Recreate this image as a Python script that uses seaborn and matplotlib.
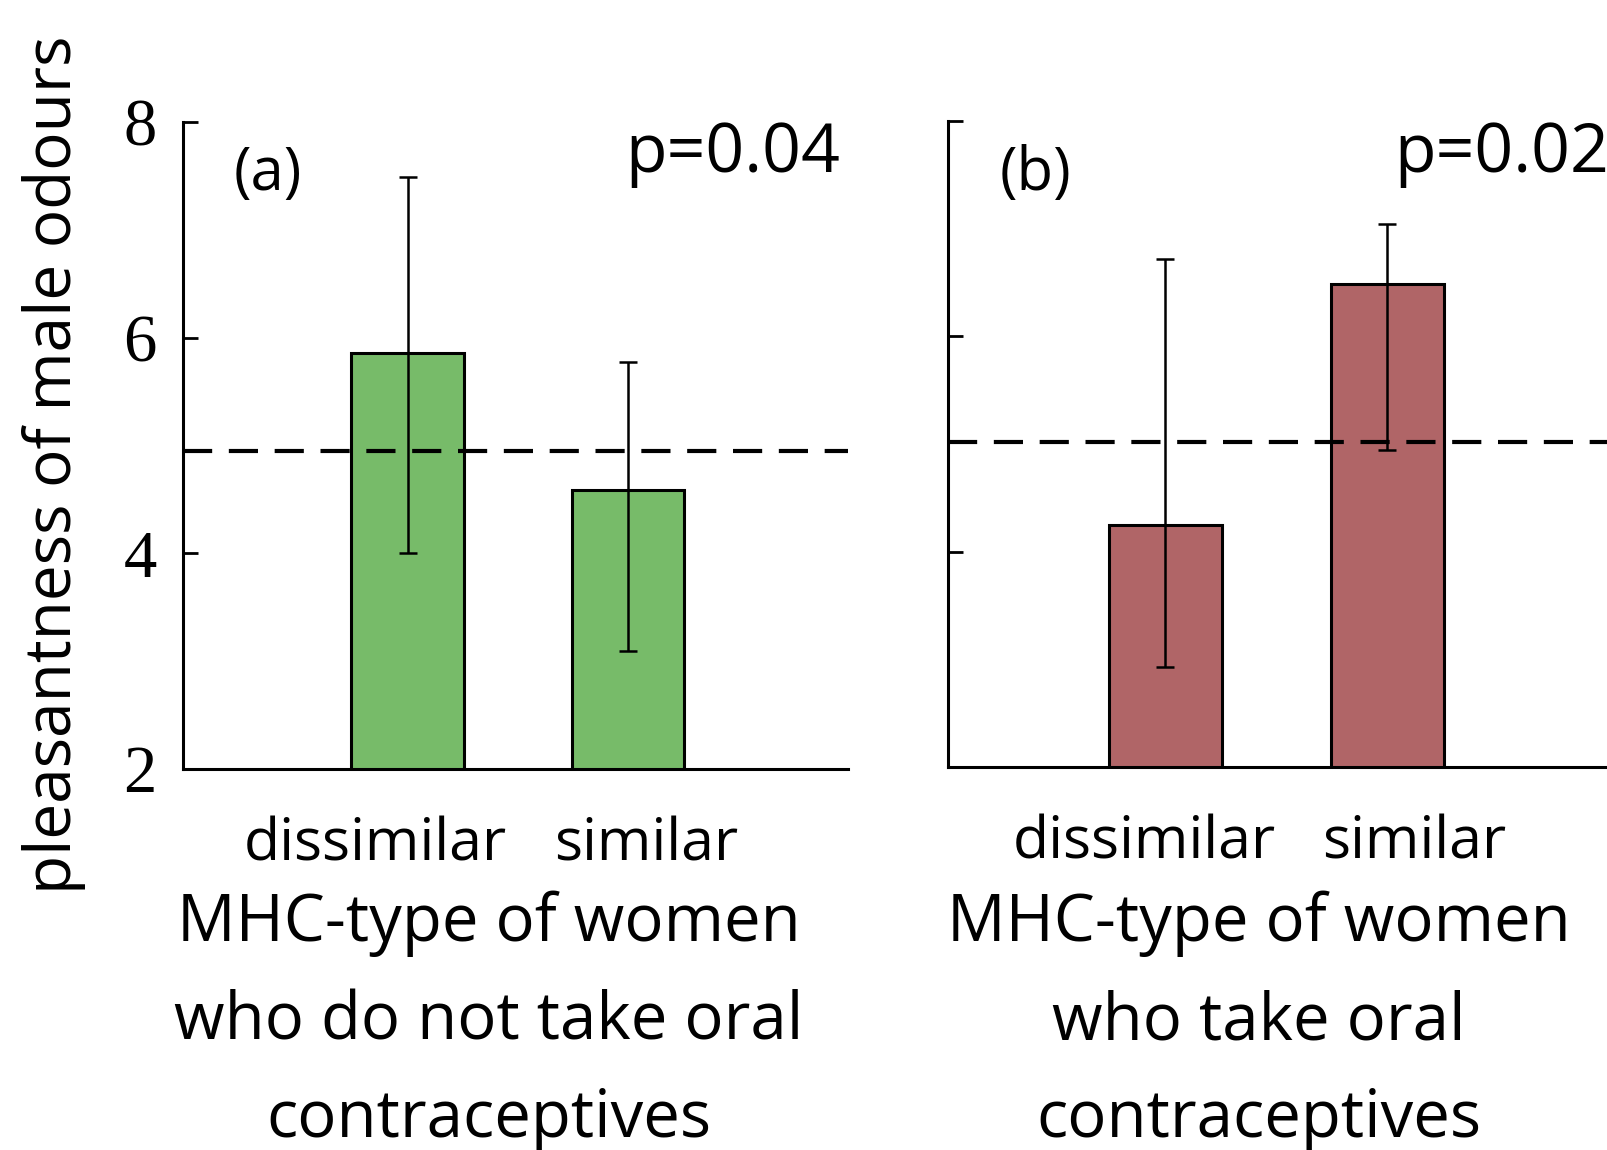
import matplotlib
matplotlib.use("Agg")
import matplotlib.pyplot as plt
import matplotlib.transforms as mtransforms
import seaborn as sns
import pandas as pd

# ---- data ----
categories = ["dissimilar", "similar"]
means_a = [5.86, 4.59]
err_low_a = [1.86, 1.50]
err_high_a = [1.63, 1.18]
chance_a = 4.95

means_b = [4.25, 6.49]
err_low_b = [1.32, 1.55]
err_high_b = [2.47, 0.55]
chance_b = 5.02

yticks = [2, 4, 6, 8]
ytick_labels = ["2", "4", "6", "8"]
panel_labels = ["(a)", "(b)"]
p_values = ["p=0.04", "p=0.02"]
xlabels = ["MHC-type of women\nwho do not take oral\ncontraceptives",
           "MHC-type of women\nwho take oral\ncontraceptives"]
ylabel = "pleasantness of male odours"
colors = ["#77BB69", "#B06567"]

sns.set_style("white")
plt.rcParams["font.family"] = ["Open Sans", "DejaVu Sans"]
for k in ["text.color", "axes.labelcolor", "xtick.color", "ytick.color"]:
    plt.rcParams[k] = "black"

W, H = 1607, 1150
fig = plt.figure(figsize=(W / 100, H / 100), dpi=100)

# axes boxes in pixels: left, top, right, bottom
boxes = [(183, 122, 848, 769), (948, 121, 1649, 767)]
xlims = [(-1.02, 2.0), (-0.98, 2.18)]
label_shifts = [(-32, 18), (-21, 27)]
xlabel_x = [489, 1259]

axes = []
for (l, t, r, b) in boxes:
    axes.append(fig.add_axes([l / W, 1 - b / H, (r - l) / W, (b - t) / H]))
ax_a, ax_b = axes

panels = [
    (ax_a, means_a, err_low_a, err_high_a, chance_a, True),
    (ax_b, means_b, err_low_b, err_high_b, chance_b, False),
]

for i, (ax, means, lo, hi, chance, show_labels) in enumerate(panels):
    l, t, r, b = boxes[i]
    df = pd.DataFrame({"type": categories, "mean": means})
    sns.barplot(data=df, x="type", y="mean", ax=ax, color=colors[i],
                width=0.51, edgecolor="black", linewidth=2.2, errorbar=None,
                saturation=1, zorder=2)
    ax.axhline(chance, color="black", lw=3, linestyle=(0, (7, 4)), zorder=3)
    ax.errorbar(x=[0, 1], y=means, yerr=[lo, hi], fmt="none", ecolor="black",
                elinewidth=1.8, capsize=6.5, capthick=1.8, zorder=4)
    ax.set_xlim(*xlims[i])
    ax.set_ylim(2, 8)
    ax.set_yticks(yticks)
    for s in ["top", "right"]:
        ax.spines[s].set_visible(False)
    for s in ["left", "bottom"]:
        ax.spines[s].set_linewidth(2.2)
        ax.spines[s].set_color("black")
    ax.tick_params(axis="y", direction="in", length=11, width=2, left=True,
                   pad=19, labelsize=48)
    if show_labels:
        ax.set_yticklabels(ytick_labels, fontfamily="Liberation Serif")
    else:
        ax.set_yticklabels([])
    ax.tick_params(axis="x", length=0, pad=34, labelsize=42.5)
    for lbl, dx in zip(ax.get_xticklabels(), label_shifts[i]):
        lbl.set_transform(lbl.get_transform() +
                          mtransforms.ScaledTranslation(dx / 100, 0, fig.dpi_scale_trans))
    ax.set_ylabel("")
    ax.set_xlabel(xlabels[i], fontsize=47, linespacing=1.64)
    ax.xaxis.label.set_va("center")
    ax.xaxis.set_label_coords((xlabel_x[i] - l) / (r - l), -(1022 - b) / (b - t))
    ax.set_facecolor("white")

def axes_xy(i, x, y):
    l, t, r, b = boxes[i]
    return (x - l) / (r - l), (b - y) / (b - t)

ax_a.text(*axes_xy(0, 268, 174), panel_labels[0], transform=ax_a.transAxes,
          ha="center", va="center", fontsize=43)
ax_a.text(*axes_xy(0, 840, 172), p_values[0], transform=ax_a.transAxes,
          ha="right", va="baseline", fontsize=49)
ax_b.text(*axes_xy(1, 1035, 174), panel_labels[1], transform=ax_b.transAxes,
          ha="center", va="center", fontsize=43)
ax_b.text(*axes_xy(1, 1394, 172), p_values[1], transform=ax_b.transAxes,
          ha="left", va="baseline", fontsize=49)

fig.text(54 / W, 1 - 465 / H, ylabel, rotation=90, ha="center", va="center", fontsize=46)

fig.savefig("out.png", dpi=100, facecolor="white")
